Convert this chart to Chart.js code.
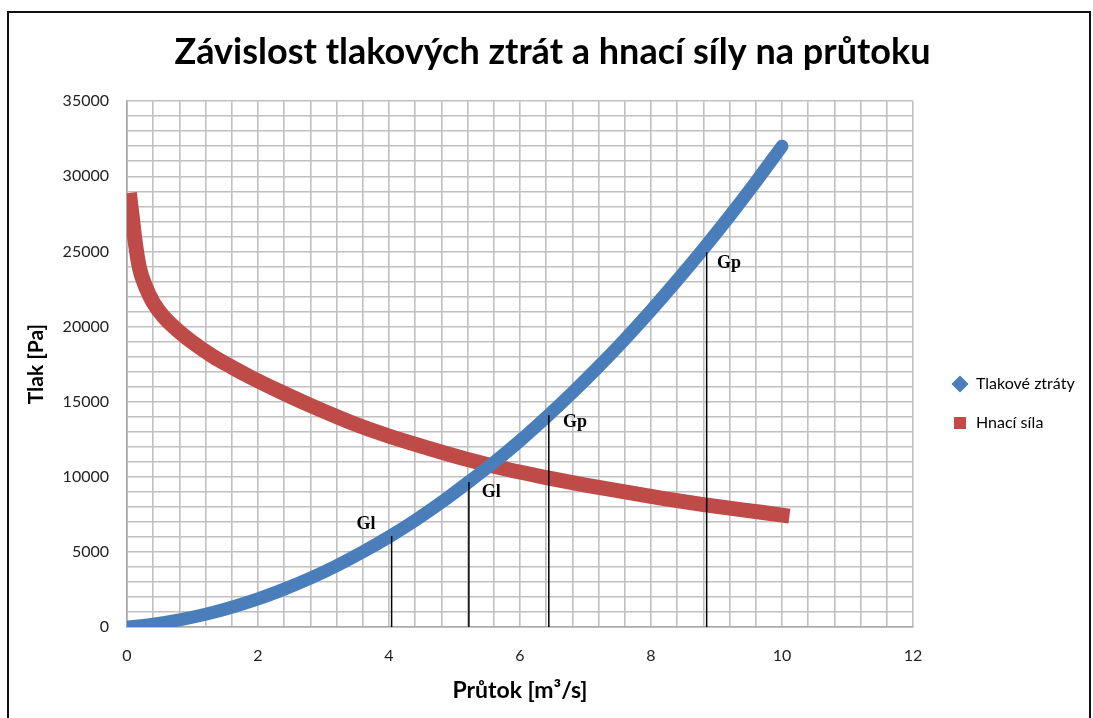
<!DOCTYPE html>
<html>
<head>
<meta charset="utf-8">
<script src="https://cdn.jsdelivr.net/npm/chart.js@4.4.1/dist/chart.umd.min.js"></script>
<style>
  html, body { margin: 0; padding: 0; background: #fff; overflow: hidden; }
  #wrap { position: relative; width: 1093px; height: 718px; }
  #frame {
    position: absolute; left: 7px; top: 11px; width: 1080px; height: 720px;
    border-left: 2px solid #111; border-top: 2px solid #111; border-right: 2px solid #111;
    pointer-events: none;
  }
  canvas { position: absolute; left: 0; top: 0; }
</style>
</head>
<body>
<div id="wrap">
  <canvas id="graf" width="1093" height="718"></canvas>
  <div id="frame"></div>
</div>
<script>
// Tlakové ztráty (modrá)
const ztratyX = [0, 0.4, 0.8, 1.2, 1.6, 2.0, 2.4, 2.8, 3.2, 3.6, 4.0, 4.4, 4.8, 5.2, 5.6, 6.0, 6.4, 6.8, 7.2, 7.6, 8.0, 8.4, 8.8, 9.2, 9.6, 10.0]
const ztratyY = [0, 190, 480, 850, 1320, 1870, 2520, 3250, 4080, 5000, 6000, 7100, 8300, 9600, 10950, 12400, 13960, 15600, 17330, 19150, 21070, 23080, 25170, 27350, 29630, 32000]

// Hnací síla (červená)
const silaX = [0.05, 0.08, 0.12, 0.19, 0.28, 0.4, 0.55, 0.8, 1.0, 1.3, 1.6, 1.9, 2.3, 2.8, 3.4, 4.0, 4.6, 5.2, 5.8, 6.4, 7.0, 7.6, 8.2, 8.8, 9.4, 10.0]
const silaY = [28400, 27300, 25800, 23900, 22700, 21600, 20700, 19650, 18950, 18050, 17300, 16600, 15750, 14750, 13650, 12700, 11900, 11150, 10500, 9950, 9450, 9000, 8550, 8150, 7800, 7450]

// svislé čáry pracovních bodů
const bodyX = [4.04, 5.22, 6.44, 8.85]
const bodyTop = [6050, 9650, 14100, 24950]

// popisky
const popisky = ['Gl', 'Gl', 'Gp', 'Gp']
const popiskyX = [3.65, 5.56, 6.84, 9.19]
const popiskyY = [6850, 8980, 13640, 24220]

const xTicks = [0, 2, 4, 6, 8, 10, 12]
const yTicks = [0, 5000, 10000, 15000, 20000, 25000, 30000, 35000]

const toPoints = (xs, ys) => xs.map((x, i) => ({ x: x, y: ys[i] }))
const isLabel = (v, list) => list.some(t => Math.abs(t - v) < 1e-6)

const datasets = [
  {
    label: 'Tlakové ztráty',
    data: toPoints(ztratyX, ztratyY),
    borderColor: '#4a7ebb',
    backgroundColor: '#4a7ebb',
    borderWidth: 13,
    borderCapStyle: 'round',
    pointRadius: 0,
    pointStyle: 'rectRot',
    cubicInterpolationMode: 'monotone',
    showLine: true
  },
  {
    label: 'Hnací síla',
    data: toPoints(silaX, silaY),
    borderColor: '#be4b48',
    backgroundColor: '#be4b48',
    borderWidth: 15,
    borderCapStyle: 'square',
    pointRadius: 0,
    pointStyle: 'rect',
    cubicInterpolationMode: 'monotone',
    showLine: true
  }
]

bodyX.forEach((x, i) => {
  datasets.push({
    label: 'bod' + i,
    data: [{ x: x, y: 0 }, { x: x, y: bodyTop[i] }],
    borderColor: '#000',
    borderWidth: 1.5,
    pointRadius: 0,
    showLine: true,
    order: -1
  })
})

// popisky Gl / Gp
const popiskyPlugin = {
  id: 'popisky',
  afterDatasetsDraw(chart) {
    const ctx = chart.ctx
    const sx = chart.scales.x
    const sy = chart.scales.y
    ctx.save()
    ctx.font = 'bold 18px "Liberation Serif", "Times New Roman", serif'
    ctx.fillStyle = '#000'
    ctx.textAlign = 'center'
    ctx.textBaseline = 'middle'
    popisky.forEach((t, i) => {
      ctx.fillText(t, sx.getPixelForValue(popiskyX[i]), sy.getPixelForValue(popiskyY[i]))
    })
    ctx.restore()
  }
}

// posun legendy doprava a dolů (jako v Excelu)
const legendaPlugin = {
  id: 'legendaPosun',
  afterLayout(chart) {
    const lg = chart.legend
    if (!lg) return
    const dx = chart.chartArea.right + 16 - lg.left
    lg.left += dx
    lg.right += dx + 60
    lg.top += 39
    lg.bottom += 39
  }
}

const pismo = 'Lato, "Open Sans", sans-serif'

new Chart(document.getElementById('graf'), {
  type: 'scatter',
  data: { datasets: datasets },
  plugins: [popiskyPlugin, legendaPlugin],
  options: {
    responsive: false,
    animation: false,
    layout: { padding: { left: 12, top: 11, right: 0, bottom: 0 } },
    plugins: {
      title: {
        display: true,
        text: 'Závislost tlakových ztrát a hnací síly na průtoku',
        color: '#000',
        font: { family: pismo, size: 36, weight: 'bold' },
        padding: { top: 20, bottom: 27 }
      },
      legend: {
        position: 'right',
        labels: {
          usePointStyle: true,
          boxHeight: 12,
          padding: 23,
          color: '#000',
          font: { family: pismo, size: 16 },
          filter: item => item.datasetIndex < 2,
          generateLabels: chart => {
            const items = Chart.defaults.plugins.legend.labels.generateLabels(chart)
            return items.map(it => Object.assign(it, { lineWidth: 0, strokeStyle: it.fillStyle }))
          }
        }
      },
      tooltip: { enabled: false }
    },
    scales: {
      x: {
        type: 'linear',
        min: 0,
        max: 12,
        afterFit: scale => {
          scale.height = 91
          scale.paddingRight = 180
        },
        ticks: {
          stepSize: 0.4,
          autoSkip: false,
          maxRotation: 0,
          padding: 19,
          color: '#222',
          font: { family: pismo, size: 16 },
          callback: v => isLabel(v, xTicks) ? String(Math.round(v)) : ''
        },
        grid: { color: '#c0c0c0', lineWidth: 1.6, drawTicks: false },
        border: { color: '#a8a8a8', width: 1.6 },
        title: {
          display: true,
          text: 'Průtok [m³/s]',
          color: '#000',
          font: { family: pismo, size: 23, weight: 'bold' },
          padding: { top: 6, bottom: 14 }
        }
      },
      y: {
        min: 0,
        max: 35000,
        afterFit: scale => { scale.width = 115 },
        ticks: {
          stepSize: 1000,
          autoSkip: false,
          padding: 18,
          color: '#222',
          font: { family: pismo, size: 16 },
          callback: v => isLabel(v, yTicks) ? String(v) : ''
        },
        grid: { color: '#c0c0c0', lineWidth: 1.6, drawTicks: false },
        border: { color: '#a8a8a8', width: 1.6 },
        title: {
          display: true,
          text: 'Tlak [Pa]',
          color: '#000',
          font: { family: pismo, size: 21, weight: 'bold' },
          padding: { top: 12, bottom: 4 }
        }
      }
    }
  }
})
</script>
</body>
</html>
